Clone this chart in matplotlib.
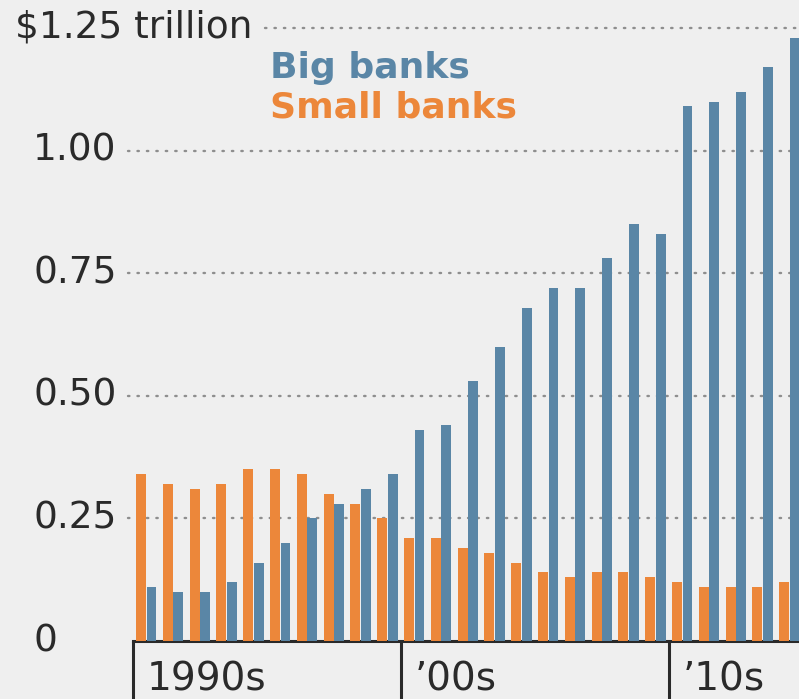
import numpy as np
import matplotlib
matplotlib.use("Agg")
from matplotlib import pyplot as plt
from matplotlib.transforms import blended_transform_factory

# Assets, trillions of dollars, 1990-2014
years = np.arange(1990, 2015)
small_banks = [0.34, 0.32, 0.31, 0.32, 0.35, 0.35, 0.34, 0.30, 0.28, 0.25,
               0.21, 0.21, 0.19, 0.18, 0.16, 0.14, 0.13, 0.14, 0.14, 0.13,
               0.12, 0.11, 0.11, 0.11, 0.12]
big_banks = [0.11, 0.10, 0.10, 0.12, 0.16, 0.20, 0.25, 0.28, 0.31, 0.34,
             0.43, 0.44, 0.53, 0.60, 0.68, 0.72, 0.72, 0.78, 0.85, 0.83,
             1.09, 1.10, 1.12, 1.17, 1.23]
y_ticks = [0, 0.25, 0.50, 0.75, 1.00, 1.25]
y_labels = ["0", "0.25", "0.50", "0.75", "1.00", "$1.25 trillion"]
decades = [1990, 2000, 2010]
decade_labels = ["1990s", "\u201900s", "\u201910s"]

ORANGE = "#ec873a"
BLUE = "#5a86a6"
BG = "#efefef"
INK = "#2a2a2a"

W, H = 799, 699
fig = plt.figure(figsize=(W / 100, H / 100), dpi=100, facecolor=BG)
ax = fig.add_axes([133 / W, 58 / H, 666 / W, 641 / H])
ax.set_facecolor(BG)

ax.bar(years + 0.30, small_banks, width=0.37, color=ORANGE, zorder=3)
ax.bar(years + 0.69, big_banks, width=0.37, color=BLUE, zorder=3)

ax.set_xlim(1990, 1990 + 666 / 26.8)
ax.set_ylim(0, 1.307)

# dotted gridlines, the top one starts after its long label
for val in y_ticks[1:]:
    start = (265 - 133) / 666 if val == 1.25 else (128 - 133) / 666
    ax.axhline(val, xmin=start, xmax=1, color="#8e8e8e", lw=1.7,
               linestyle=(0, (0.6, 3.4)), dash_capstyle="round",
               clip_on=False, zorder=1)

# y labels, left aligned outside the axes
trans = blended_transform_factory(fig.transFigure, ax.transData)
for val, lab in zip(y_ticks, y_labels):
    x = 15 / W if lab.startswith("$") else 33 / W
    ax.text(x, val, lab, transform=trans, ha="left", va="center",
            fontsize=27, color=INK)

for side in ["left", "right", "top"]:
    ax.spines[side].set_visible(False)
ax.spines["bottom"].set_linewidth(2.2)
ax.spines["bottom"].set_color(INK)
ax.set_yticks([])
ax.set_xticks(decades)
ax.set_xticklabels([])
ax.tick_params(axis="x", length=42, width=2.2, color=INK, direction="out")

xtrans = blended_transform_factory(ax.transData, fig.transFigure)
for d, lab in zip(decades, decade_labels):
    ax.text(d + 0.52, 0.5 / H, lab, transform=xtrans, ha="left", va="bottom",
            fontsize=28, color=INK)

# legend as coloured text
ax.text(270 / W, 1 - 68 / H, "Big banks", transform=fig.transFigure,
        ha="left", va="center", fontsize=26, fontweight="bold", color=BLUE)
ax.text(270 / W, 1 - 108 / H, "Small banks", transform=fig.transFigure,
        ha="left", va="center", fontsize=26, fontweight="bold", color=ORANGE)

fig.savefig("out.png", dpi=100, facecolor=BG)
